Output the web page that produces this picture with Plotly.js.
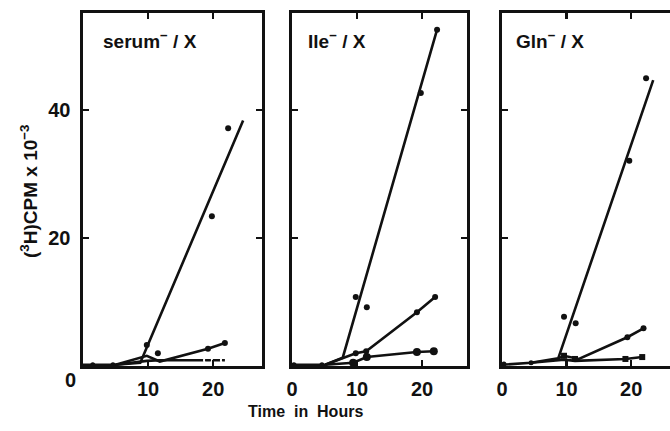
<!DOCTYPE html>
<html>
<head>
<meta charset="utf-8">
<script src="https://cdn.plot.ly/plotly-3.0.1.min.js"></script>
<style>html,body{margin:0;padding:0;background:#fff;}#chart{width:670px;height:431px;}</style>
</head>
<body>
<div id="chart"></div>
<script>
// ---- Panel titles and tick labels ----
const panelTitles = ['serum<sup>−</sup> / X', 'Ile<sup>−</sup> / X', 'Gln<sup>−</sup> / X'];
const xTickVals1 = [10, 20];
const xTickVals = [0, 10, 20];
const yTickVals = [20, 40];

// ---- serum-/X ----
const serumMainLineX = [0, 5, 8.8, 24.6];
const serumMainLineY = [0.2, 0.2, 0.5, 38.4];
const serumMainPtsX = [9.8, 11.5, 19.8, 22.3];
const serumMainPtsY = [3.3, 2.0, 23.4, 37.2];
const serumMidLineX = [5, 9.8, 11.8, 19.2, 21.8];
const serumMidLineY = [0.2, 1.6, 0.7, 2.7, 3.6];
const serumMidPtsX = [19.2, 21.8];
const serumMidPtsY = [2.7, 3.6];
const serumLowLineX = [5, 9.8, 11.8, 19.2, 21.8];
const serumLowLineY = [0.2, 0.8, 0.9, 0.9, 0.9];
const serumLowPtsX = [19.2, 21.8];
const serumLowPtsY = [0.9, 0.9];
const serumBasePtsX = [1.5, 4.6];
const serumBasePtsY = [0.2, 0.2];

// ---- Ile-/X ----
const ileMainLineX = [0, 5.1, 7.8, 22.3];
const ileMainLineY = [0.2, 0.2, 1.3, 52.6];
const ileMainPtsX = [9.8, 11.5, 19.8, 22.3];
const ileMainPtsY = [10.8, 9.2, 42.7, 52.6];
const ileMidLineX = [5.1, 9.8, 11.4, 19.2, 22.0];
const ileMidLineY = [0.2, 2.0, 2.3, 8.4, 10.8];
const ileMidPtsX = [9.8, 11.4, 19.2, 22.0];
const ileMidPtsY = [2.0, 2.3, 8.4, 10.8];
const ileLowLineX = [5.1, 9.4, 11.5, 19.2, 21.8];
const ileLowLineY = [0.2, 0.5, 1.4, 2.2, 2.3];
const ileLowPtsX = [9.4, 11.5, 19.2, 21.8];
const ileLowPtsY = [0.5, 1.4, 2.2, 2.3];
const ileBasePtsX = [0.3, 4.6];
const ileBasePtsY = [0.2, 0.2];

// ---- Gln-/X ----
const glnMainLineX = [0, 4.5, 8.7, 23.4];
const glnMainLineY = [0.2, 0.5, 1.2, 44.7];
const glnMainPtsX = [9.6, 11.4, 19.7, 22.3];
const glnMainPtsY = [7.7, 6.7, 32.1, 45.0];
const glnMidLineX = [8.7, 9.6, 11.9, 19.4, 21.9];
const glnMidLineY = [1.2, 1.6, 1.1, 4.5, 5.9];
const glnMidPtsX = [19.4, 21.9];
const glnMidPtsY = [4.5, 5.9];
const glnLowLineX = [4.5, 9.6, 11.3, 19.1, 21.7];
const glnLowLineY = [0.5, 1.0, 0.8, 1.1, 1.4];
const glnLowPtsX = [9.6, 11.3, 19.1, 21.7];
const glnLowPtsY = [1.6, 1.1, 1.1, 1.4];
const glnBasePtsX = [0.3, 4.5];
const glnBasePtsY = [0.3, 0.5];

const ink = '#111';
function line(x, y, ax) {
  return {x: x, y: y, xaxis: 'x' + ax, yaxis: 'y' + ax, mode: 'lines',
          line: {color: ink, width: 2.6}, hoverinfo: 'skip', showlegend: false, type: 'scatter'};
}
function pts(x, y, ax, sym, size) {
  return {x: x, y: y, xaxis: 'x' + ax, yaxis: 'y' + ax, mode: 'markers',
          marker: {color: sym.indexOf('open') >= 0 ? '#fff' : ink, size: size || 6, symbol: sym,
                   line: {color: ink, width: sym.indexOf('open') >= 0 ? 2 : 0}},
          hoverinfo: 'skip', showlegend: false, type: 'scatter'};
}

const data = [
  line(serumMainLineX, serumMainLineY, ''), pts(serumMainPtsX, serumMainPtsY, '', 'circle', 6),
  line(serumMidLineX, serumMidLineY, ''), pts(serumMidPtsX, serumMidPtsY, '', 'circle', 6),
  line(serumLowLineX, serumLowLineY, ''), pts(serumLowPtsX, serumLowPtsY, '', 'circle-open', 8),
  pts(serumBasePtsX, serumBasePtsY, '', 'circle', 5),
  line(ileMainLineX, ileMainLineY, '2'), pts(ileMainPtsX, ileMainPtsY, '2', 'circle', 6),
  line(ileMidLineX, ileMidLineY, '2'), pts(ileMidPtsX, ileMidPtsY, '2', 'circle', 6),
  line(ileLowLineX, ileLowLineY, '2'), pts(ileLowPtsX, ileLowPtsY, '2', 'circle', 8),
  pts(ileBasePtsX, ileBasePtsY, '2', 'circle', 5),
  line(glnMainLineX, glnMainLineY, '3'), pts(glnMainPtsX, glnMainPtsY, '3', 'circle', 6),
  line(glnMidLineX, glnMidLineY, '3'), pts(glnMidPtsX, glnMidPtsY, '3', 'circle', 6),
  line(glnLowLineX, glnLowLineY, '3'), pts(glnLowPtsX, glnLowPtsY, '3', 'square', 6),
  pts(glnBasePtsX, glnBasePtsY, '3', 'circle', 5)
];

const tickFont = {family: 'Liberation Sans, Arial, sans-serif', size: 20, color: ink, weight: 'bold'};
function xax(domain, range, vals, anchor) {
  return {domain: domain, range: range, anchor: anchor, tickmode: 'array', tickvals: vals,
          ticktext: vals.map(String), ticks: 'inside', ticklen: 6, tickwidth: 2.4, tickcolor: ink,
          showline: true, linecolor: ink, linewidth: 2.6, mirror: 'ticks', showgrid: false,
          zeroline: false, tickfont: tickFont, ticklabelstandoff: 3, fixedrange: true};
}
function yax(anchor, labels, mirror) {
  return {domain: [0.1508, 0.9698], range: [0, 55.2], anchor: anchor, tickmode: 'array',
          tickvals: yTickVals, ticktext: yTickVals.map(String), showticklabels: labels,
          ticks: 'inside', ticklen: 6, tickwidth: 2.4, tickcolor: ink, showline: true,
          linecolor: ink, linewidth: 2.6, mirror: mirror, showgrid: false, zeroline: false,
          tickfont: tickFont, ticklabelstandoff: 6, fixedrange: true};
}

const titleFont = {family: 'Liberation Sans, Arial, sans-serif', size: 19, color: ink, weight: 'bold'};
const labelFont = {family: 'Liberation Sans, Arial, sans-serif', size: 16, color: ink, weight: 'bold'};

const layout = {
  width: 670, height: 431,
  margin: {l: 0, r: 0, t: 0, b: 0},
  paper_bgcolor: '#fff', plot_bgcolor: '#fff',
  showlegend: false,
  xaxis: xax([83 / 670, 262 / 670], [0, 27.5], xTickVals1, 'y'),
  yaxis: yax('x', true, 'ticks'),
  xaxis2: xax([292 / 670, 467 / 670], [0, 26.9], xTickVals, 'y2'),
  yaxis2: yax('x2', false, 'ticks'),
  xaxis3: xax([502 / 670, 1], [0, 26.0], xTickVals, 'y3'),
  yaxis3: yax('x3', false, false),
  annotations: [
    {text: panelTitles[0], xref: 'paper', yref: 'paper', x: 101 / 670, y: 1 - 40 / 431,
     xanchor: 'left', yanchor: 'middle', showarrow: false, font: titleFont},
    {text: panelTitles[1], xref: 'paper', yref: 'paper', x: 306 / 670, y: 1 - 40 / 431,
     xanchor: 'left', yanchor: 'middle', showarrow: false, font: titleFont},
    {text: panelTitles[2], xref: 'paper', yref: 'paper', x: 514 / 670, y: 1 - 40 / 431,
     xanchor: 'left', yanchor: 'middle', showarrow: false, font: titleFont},
    {text: '0', xref: 'paper', yref: 'paper', x: 70 / 670, y: 1 - 380 / 431,
     xanchor: 'center', yanchor: 'middle', showarrow: false, font: tickFont},
    {text: 'Time  in  Hours', xref: 'paper', yref: 'paper', x: 305 / 670, y: 1 - 411 / 431,
     xanchor: 'center', yanchor: 'middle', showarrow: false, font: labelFont},
    {text: '(<sup>3</sup>H)CPM x 10<sup>−3</sup>', xref: 'paper', yref: 'paper', x: 29 / 670,
     y: 1 - 192 / 431, xanchor: 'center', yanchor: 'middle', textangle: -90,
     showarrow: false, font: {family: 'Liberation Sans, Arial, sans-serif', size: 19, color: ink, weight: 'bold'}}
  ]
};

Plotly.newPlot('chart', data, layout, {staticPlot: true, displayModeBar: false});
</script>
</body>
</html>
